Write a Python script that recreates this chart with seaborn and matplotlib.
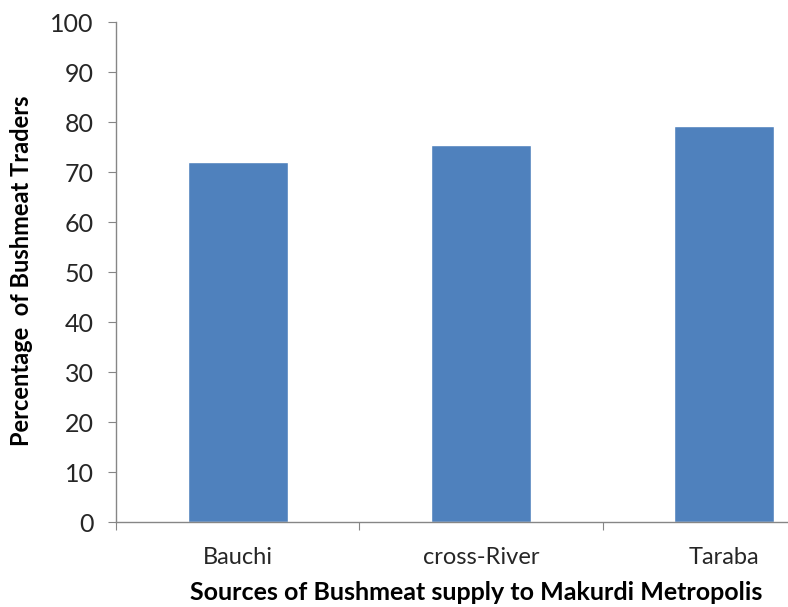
import matplotlib
matplotlib.use("Agg")
import matplotlib.pyplot as plt
import seaborn as sns
import pandas as pd

categories = ["Bauchi", "cross-River", "Taraba"]
values = [72.1, 75.4, 79.3]
yticks = [0, 10, 20, 30, 40, 50, 60, 70, 80, 90, 100]

sns.set_style("white")
plt.rcParams['font.family'] = ['Lato', 'DejaVu Sans']

df = pd.DataFrame({"source": categories, "pct": values})

fig = plt.figure(figsize=(7.88, 6.07), dpi=100)
ax = fig.add_axes([116/788, 1-522/607, 730/788, 500/607])
sns.barplot(data=df, x="source", y="pct", color="#4F81BD", saturation=1,
            width=0.41, ax=ax)
ax.set_xlim(-0.5, 2.5)
ax.set_ylim(0, 100)
ax.set_yticks(yticks)
ax.set_yticklabels([str(v) for v in yticks], fontsize=18, color="#262626")
ax.set_xticks([-0.5, 0.5, 1.5, 2.5], minor=False)
ax.set_xticklabels([])
ax.set_xticks([0, 1, 2], minor=True)
ax.set_xticklabels(categories, minor=True, fontsize=17, color="#262626")
ax.tick_params(axis="x", which="minor", length=0, pad=18)
ax.tick_params(axis="x", which="major", length=6, color="#868686", direction="out", bottom=True)
ax.tick_params(axis="y", length=6, color="#868686", direction="out", left=True, pad=10)
for s in ["top", "right"]:
    ax.spines[s].set_visible(False)
for s in ["left", "bottom"]:
    ax.spines[s].set_color("#868686")
    ax.spines[s].set_linewidth(1.0)
ax.set_xlabel("Sources of Bushmeat supply to Makurdi Metropolis", fontsize=18,
              fontweight="bold", color="black", va="center")
ax.set_ylabel("Percentage  of Bushmeat Traders", fontsize=17, fontweight="bold",
              color="black", va="center")
ax.xaxis.set_label_coords((476-116)/730, -(593-522)/500)
ax.yaxis.set_label_coords(-(116-22)/730, (522-271)/500)
fig.savefig("out.png", dpi=100)
